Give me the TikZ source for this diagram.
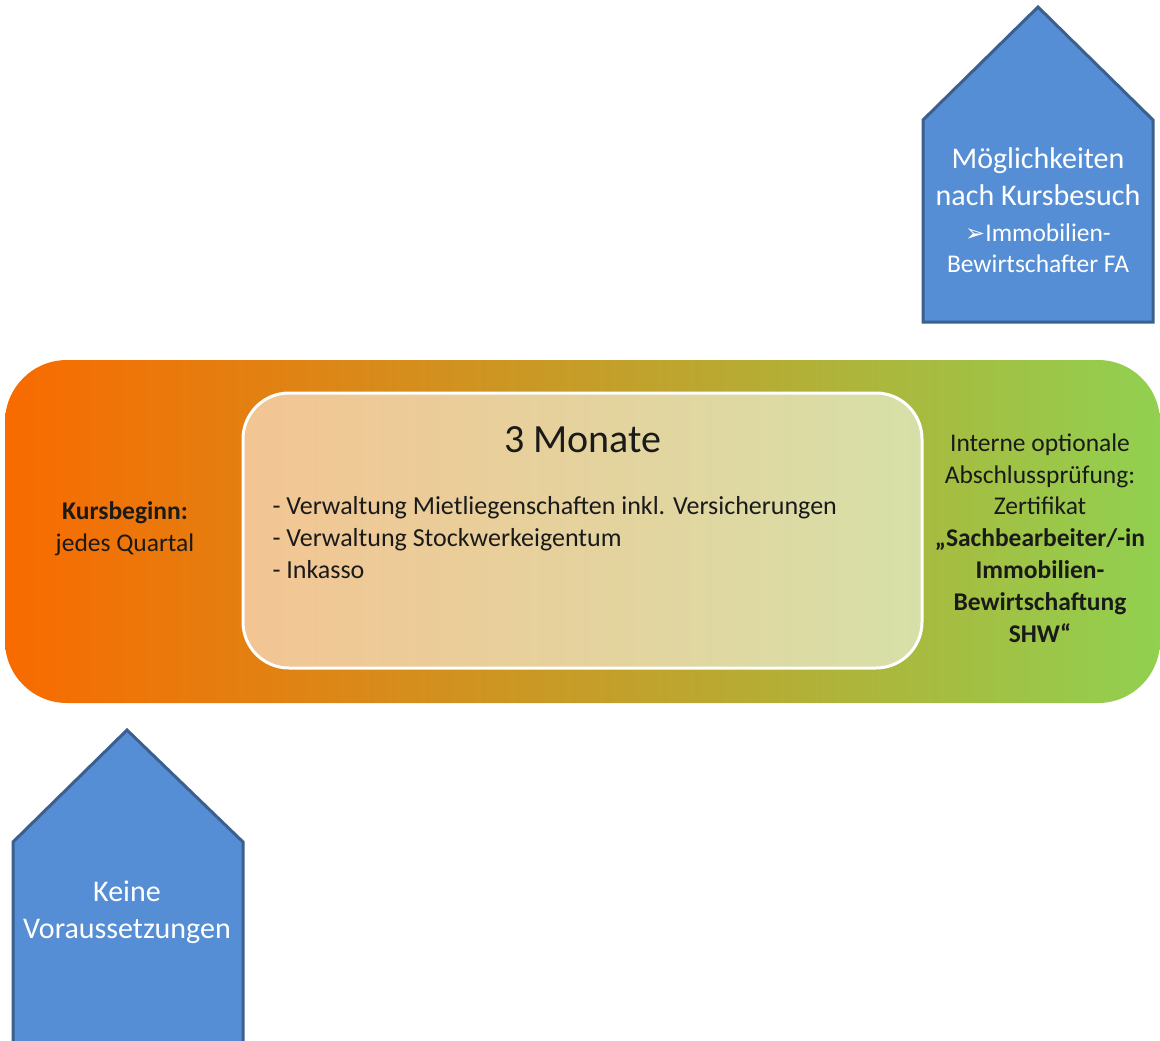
\documentclass[tikz,border=0pt]{standalone}
\usepackage{fontspec}
\setmainfont{Carlito}
\newfontfamily\symfont{DejaVu Sans}
\usepackage{xcolor}
\usepackage{tikz}

\definecolor{bandorange}{HTML}{F96A00}
\definecolor{bandgold}{HTML}{CA9E28}
\definecolor{bandgreen}{HTML}{92D050}
\definecolor{houseblue}{HTML}{558ED5}
\definecolor{houseline}{HTML}{3B5F8E}
\definecolor{textdark}{HTML}{1A1A1A}

\tikzset{
    house/.style = {fill = houseblue, draw = houseline, line width = 3pt, line join = miter},
    housetext/.style = {text = white, align = center, font = \fontsize{30}{37}\selectfont},
    bandtext/.style = {text = textdark, align = center, font = \fontsize{25.5}{31.8}\selectfont}
}

\begin{document}
\begin{tikzpicture}[x = 1pt, y = -1pt]
        \useasboundingbox (0, 0) rectangle (1160, 1041);

        % band with the course
        \shade[left color = bandorange, middle color = bandgold, right color = bandgreen, rounded corners = 62pt]
            (5, 360) rectangle (1160, 703);
        \filldraw[fill = white, fill opacity = 0.55, draw = white, line width = 3pt, rounded corners = 46pt]
            (243, 393) rectangle (922, 668);

        \node[bandtext] (start) at (125, 529) {\textbf{Kursbeginn:}\\jedes Quartal};
        \node[text = textdark, font = \fontsize{40}{44}\selectfont] (dauer) at (583, 440) {3 Monate};
        \node[text = textdark, align = left, anchor = north west, font = \fontsize{26}{32}\selectfont] (inhalt) at (269, 493)
            {- Verwaltung Mietliegenschaften inkl. Versicherungen\\
             - Verwaltung Stockwerkeigentum\\
             - Inkasso};
        \node[bandtext] (pruefung) at (1040, 538) {Interne optionale\\Abschlussprüfung:\\Zertifikat\\
            \textbf{„Sachbearbeiter/-in}\\\textbf{Immobilien-}\\\textbf{Bewirtschaftung}\\\textbf{SHW“}};

        % upper house
        \coordinate (ot) at (1038, 7);
        \coordinate (ol) at (923, 120);
        \coordinate (or) at (1153, 120);
        \draw[house] (ot) -- (or) -- (1153, 322) -- (923, 322) -- (ol) -- cycle;
        \node[housetext] (moeglich) at (1038, 177) {Möglichkeiten\\nach Kursbesuch};
        \node[housetext, font = \fontsize{25.5}{31}\selectfont] (fa) at (1038, 248)
            {{\symfont\fontsize{24}{24}\selectfont ➢}Immobilien-\\Bewirtschafter FA};

        % lower house
        \coordinate (ut) at (127, 730);
        \coordinate (ul) at (13, 842);
        \coordinate (ur) at (243, 842);
        \fill[houseblue] (ut) -- (ur) -- (243, 1045) -- (13, 1045) -- (ul) -- cycle;
        \draw[house, fill = none] (13, 1045) -- (ul) -- (ut) -- (ur) -- (243, 1045);
        \node[housetext] (keine) at (127, 912) {Keine\\Voraussetzungen};
    \end{tikzpicture}
\end{document}
